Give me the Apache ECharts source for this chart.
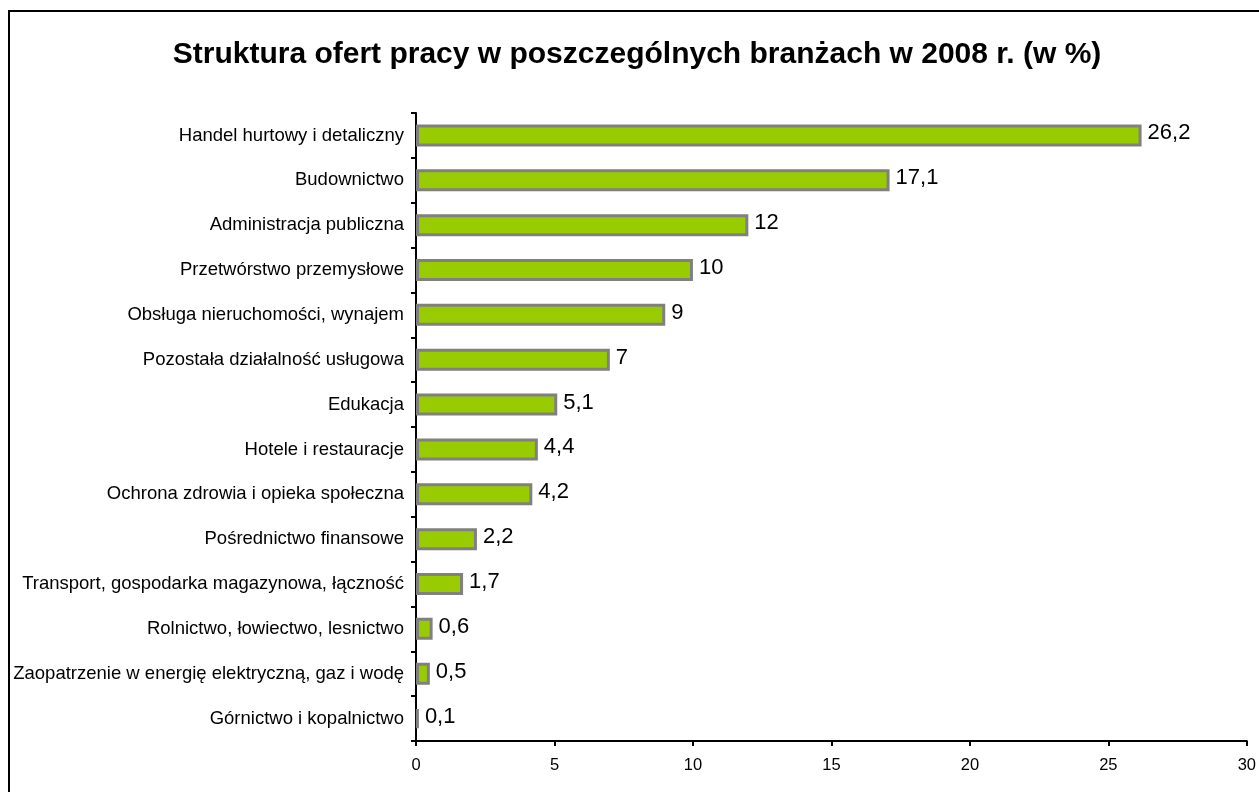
<!DOCTYPE html>
<html><head><meta charset="utf-8">
<script src="https://cdn.jsdelivr.net/npm/echarts@6/dist/echarts.min.js"></script>
<style>html,body{margin:0;padding:0;background:#fff}#c{width:1259px;height:792px}</style>
</head><body><div id="c"></div>
<script>
const titleText = 'Struktura ofert pracy w poszczególnych branżach w 2008 r. (w %)';
const categories = [
  'Handel hurtowy i detaliczny',
  'Budownictwo',
  'Administracja publiczna',
  'Przetwórstwo przemysłowe',
  'Obsługa nieruchomości, wynajem',
  'Pozostała działalność usługowa',
  'Edukacja',
  'Hotele i restauracje',
  'Ochrona zdrowia i opieka społeczna',
  'Pośrednictwo finansowe',
  'Transport, gospodarka magazynowa, łączność',
  'Rolnictwo, łowiectwo, lesnictwo',
  'Zaopatrzenie w energię elektryczną, gaz i wodę',
  'Górnictwo i kopalnictwo'
];
const values = [26.2, 17.1, 12, 10, 9, 7, 5.1, 4.4, 4.2, 2.2, 1.7, 0.6, 0.5, 0.1];
const xTicks = [0, 5, 10, 15, 20, 25, 30];

const chart = echarts.init(document.getElementById('c'), null, {renderer: 'canvas'});
const font = 'Liberation Sans, Arial, sans-serif';
chart.setOption({
  animation: false,
  backgroundColor: '#fff',
  textStyle: {fontFamily: font},
  graphic: [{
    type: 'rect', shape: {x: 9, y: 11, width: 1300, height: 900},
    style: {fill: 'none', stroke: '#000', lineWidth: 2}, silent: true, z: -1
  }],
  title: {
    text: titleText, left: 632, top: 35, textAlign: 'center',
    textStyle: {fontFamily: font, fontSize: 30, fontWeight: 'bold', color: '#000'}
  },
  grid: {left: 416, right: 8, top: 113, bottom: 51, containLabel: false},
  xAxis: {
    type: 'value', min: 0, max: 30, interval: 5,
    axisLine: {show: true, lineStyle: {color: '#000', width: 2}},
    axisTick: {show: true, length: 5, lineStyle: {color: '#000', width: 2}},
    splitLine: {show: false},
    axisLabel: {fontSize: 16.5, color: '#000', margin: 16, fontFamily: font,
      formatter: v => xTicks.includes(v) ? String(v) : ''}
  },
  yAxis: {
    type: 'category', data: categories, inverse: true,
    axisLine: {show: true, lineStyle: {color: '#000', width: 2}},
    axisTick: {show: true, length: 5, lineStyle: {color: '#000', width: 2}},
    axisLabel: {fontSize: 18.5, color: '#000', margin: 12, fontFamily: font}
  },
  series: [{
    type: 'bar', data: values, barWidth: 22,
    itemStyle: {color: '#99CC00', borderColor: '#808080', borderWidth: 3},
    label: {show: true, position: 'right', distance: 6, fontSize: 22, color: '#000', fontFamily: font,
      offset: [0, -2],
      formatter: p => String(p.value).replace('.', ',')}
  }]
});
</script></body></html>
